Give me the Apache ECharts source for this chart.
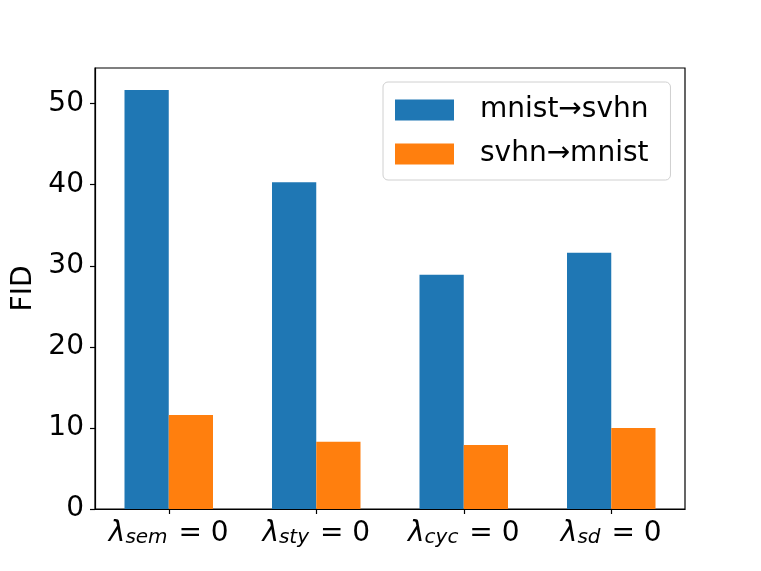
<!DOCTYPE html>
<html><head><meta charset="utf-8">
<script src="https://cdn.jsdelivr.net/npm/echarts@6/dist/echarts.min.js"></script>
<style>html,body{margin:0;padding:0;background:#fff}#c{width:761px;height:571px}</style>
</head><body><div id="c"></div>
<script>
const subscripts = ['sem', 'sty', 'cyc', 'sd'];
const seriesNames = ['mnist\u2192svhn', 'svhn\u2192mnist'];
const mnistToSvhn = [51.7, 40.3, 28.9, 31.6];
const svhnToMnist = [11.6, 8.3, 7.9, 10.0];
const yTicks = [0, 10, 20, 30, 40, 50];

const F = 'DejaVu Sans';
const chart = echarts.init(document.getElementById('c'));
chart.setOption({
  animation: false,
  backgroundColor: '#fff',
  grid: { left: 95, right: 76, top: 68, bottom: 62, show: true, borderColor: '#000', borderWidth: 1.2, backgroundColor: 'transparent' },
  legend: {
    orient: 'vertical', left: 383, top: 82,
    padding: [14, 22, 12, 12], itemWidth: 59, itemHeight: 21, itemGap: 16,
    borderColor: '#d0d0d0', borderWidth: 1, borderRadius: 5, backgroundColor: '#fff',
    icon: 'rect',
    textStyle: { fontFamily: F, fontSize: 28, lineHeight: 28, color: '#000', padding: [0, 0, 0, 21] },
    data: seriesNames
  },
  xAxis: {
    type: 'category', data: subscripts,
    axisLine: { show: true, lineStyle: { color: '#000', width: 1.2 } },
    axisTick: { show: true, alignWithLabel: true, length: 5, lineStyle: { color: '#000', width: 1.2 } },
    axisLabel: {
      margin: 11, color: '#000',
      formatter: v => '{l|\u03bb}{s|' + v + '}{e| = 0}',
      rich: {
        l: { fontFamily: F, fontSize: 28, fontStyle: 'italic', color: '#000', verticalAlign: 'top', lineHeight: 34 },
        s: { fontFamily: F, fontSize: 20, fontStyle: 'italic', color: '#000', verticalAlign: 'top', lineHeight: 34, padding: [8, 0, 0, 0] },
        e: { fontFamily: F, fontSize: 28, color: '#000', verticalAlign: 'top', lineHeight: 34, padding: [0, 0, 0, 2] }
      }
    },
    splitLine: { show: false }
  },
  yAxis: {
    type: 'value', min: 0, max: 54.4, interval: 10,
    name: 'FID', nameLocation: 'middle', nameGap: 55,
    nameTextStyle: { fontFamily: F, fontSize: 28, color: '#000' },
    axisLine: { show: true, lineStyle: { color: '#000', width: 1.2 } },
    axisTick: { show: true, length: 5, customValues: yTicks, lineStyle: { color: '#000', width: 1.2 } },
    axisLabel: {
      fontFamily: F, fontSize: 28, color: '#000', margin: 11,
      customValues: yTicks,
      formatter: v => String(v)
    },
    splitLine: { show: false }
  },
  series: [
    { name: seriesNames[0], type: 'bar', data: mnistToSvhn, barWidth: '30%', barGap: '0%', itemStyle: { color: '#1f77b4' } },
    { name: seriesNames[1], type: 'bar', data: svhnToMnist, barWidth: '30%', barGap: '0%', itemStyle: { color: '#ff7f0e' } }
  ]
});
</script></body></html>
